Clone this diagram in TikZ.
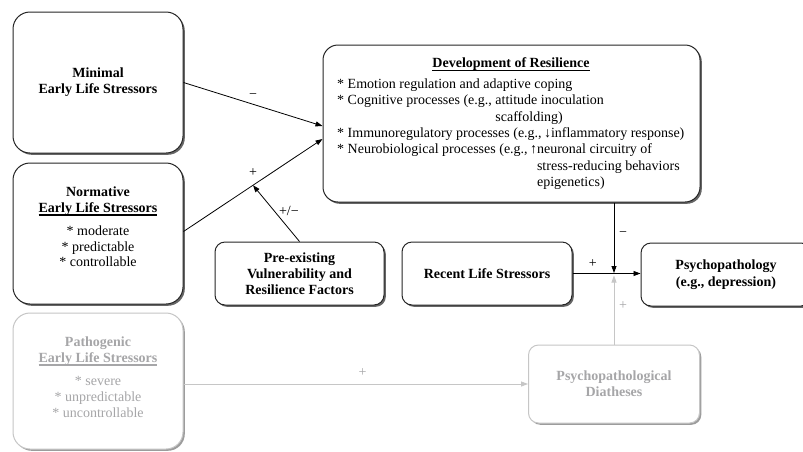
\documentclass[tikz,border=0pt]{standalone}
\usepackage{fontspec}
\setmainfont{Liberation Serif}
\usetikzlibrary{arrows.meta,shadows,calc}
\definecolor{lgray}{HTML}{C6C6C6}
\definecolor{tgray}{HTML}{A6A6A8}
\definecolor{sgray}{HTML}{9C9C9C}
\newcommand\myul[2][1.5pt]{\leavevmode\setbox0\hbox{#2}\rlap{\rule[-3.8pt]{\wd0}{#1}}\box0}
\begin{document}
\begin{tikzpicture}[x=1pt,y=-1pt,
  box/.style={draw=black!85, line width=1pt, rounded corners=#1, fill=white,
    drop shadow={shadow xshift=1.8pt, shadow yshift=-1.8pt, fill=black!60, opacity=1},
    inner sep=0pt, align=center, font=\fontsize{14}{16}\selectfont\bfseries},
  box/.default=10pt,
  gbox/.style={draw=lgray, line width=1pt, rounded corners=#1, fill=white,
    drop shadow={shadow xshift=1.8pt, shadow yshift=-1.8pt, fill=sgray, opacity=1},
    inner sep=0pt, align=center, text=tgray, font=\fontsize{14}{16}\selectfont\bfseries},
  gbox/.default=10pt,
  bt/.style={inner sep=0pt, anchor=base, font=\fontsize{14}{16}\selectfont\bfseries},
  rt/.style={inner sep=0pt, anchor=base, font=\fontsize{14}{16}\selectfont},
  lt/.style={inner sep=0pt, anchor=base west, font=\fontsize{14}{16}\selectfont},
  arr/.style={draw=black, line width=0.8pt, -{Triangle[length=7pt,width=5pt]}},
  garr/.style={draw=lgray, line width=0.8pt, -{Triangle[length=7pt,width=5pt]}},
  lbl/.style={inner sep=0pt, font=\fontsize{14}{16}\selectfont},
  glbl/.style={inner sep=0pt, text=tgray, font=\fontsize{14}{16}\selectfont},
]
\clip (0,0) rectangle (803,451);
\fill[white] (0,0) rectangle (803,451);

% boxes
\node[box=17pt, minimum width=170pt, minimum height=141pt] (min) at (98,82.5)
  {Minimal\\Early Life Stressors};
\node[box=17pt, minimum width=170pt, minimum height=141pt] (nor) at (98,233.5) {};
\node[gbox=17pt, minimum width=170pt, minimum height=136pt] (pat) at (98,381) {};
\node[box=15pt, minimum width=377pt, minimum height=157pt] (dev) at (511.5,123.5) {};
\node[box, minimum width=169pt, minimum height=63pt] (pre) at (299.5,273.5)
  {Pre-existing\\Vulnerability and\\Resilience Factors};
\node[box, minimum width=170pt, minimum height=63pt] (rec) at (487,273.5)
  {Recent Life Stressors};
\node[box, minimum width=170pt, minimum height=63pt] (psy) at (726,274.5)
  {Psychopathology\\[1pt](e.g., depression)};
\node[gbox, minimum width=171pt, minimum height=78pt] (dia) at (614,384)
  {Psychopathological\\Diatheses};

% Normative text
\node[bt] (n1) at (98,196) {Normative};
\node[bt] (n2) at (98,212) {\myul[1.8pt]{Early Life Stressors}};
\node[rt] (n3) at (98,235) {* moderate};
\node[rt] (n4) at (98,251) {* predictable};
\node[rt] (n5) at (98,266.5) {* controllable};

% Pathogenic text
\node[bt, text=tgray] (p1) at (98,346) {Pathogenic};
\node[bt, text=tgray] (p2) at (98,362) {\myul[1.8pt]{Early Life Stressors}};
\node[rt, text=tgray] (p3) at (98,385) {* severe};
\node[rt, text=tgray] (p4) at (98,401) {* unpredictable};
\node[rt, text=tgray] (p5) at (98,417) {* uncontrollable};

% Development text
\node[bt] (d0) at (511,67) {\myul[1.2pt]{Development of Resilience}};
\node[lt] (d1) at (337,88.5) {* Emotion regulation and adaptive coping};
\node[lt] (d2) at (337,104.8) {* Cognitive processes (e.g., attitude inoculation};
\node[lt] (d3) at (337,121.1) {\phantom{* Cognitive processes (e.g., }scaffolding)};
\node[lt] (d4) at (337,137.4) {* Immunoregulatory processes (e.g.,\,↓inflammatory response)};
\node[lt] (d5) at (337,153.7) {* Neurobiological processes (e.g.,\,↑neuronal circuitry of};
\node[lt] (d6) at (337,170) {\phantom{* Neurobiological processes (e.g.,\,↑}stress-reducing behaviors};
\node[lt] (d7) at (337,186.3) {\phantom{* Neurobiological processes (e.g.,\,↑}epigenetics)};

% connectors
\draw[arr] (min.east) -- node[lbl, pos=0.5, shift={(0,-8)}] {−} ([yshift=-2.5pt]dev.west);
\draw[arr] ([yshift=2pt]nor.east) -- coordinate[pos=0.5] (mid)
  node[lbl, pos=0.5, shift={(0,-12.5)}] {+} ([yshift=-15.5pt]dev.west);
\draw[arr] (pre.north) -- node[lbl, pos=0.55, shift={(15,0)}] {+/−} (mid);
\draw[arr] (rec.east) -- node[lbl, pos=0.3, shift={(0,-10)}] {+} (psy.west |- rec.east);
\draw[arr, shorten >=0.5pt] (dia.north |- dev.south) -- node[lbl, pos=0.45, shift={(9,0)}] {−} (dia.north |- rec.east);
\draw[garr, shorten >=2pt] (dia.north) -- node[glbl, pos=0.55, shift={(9,0)}] {+} (dia.north |- rec.east);
\draw[garr] (pat.east |- dia.west) -- node[glbl, pos=0.52, shift={(0,-11)}] {+} (dia.west);
\end{tikzpicture}
\end{document}
